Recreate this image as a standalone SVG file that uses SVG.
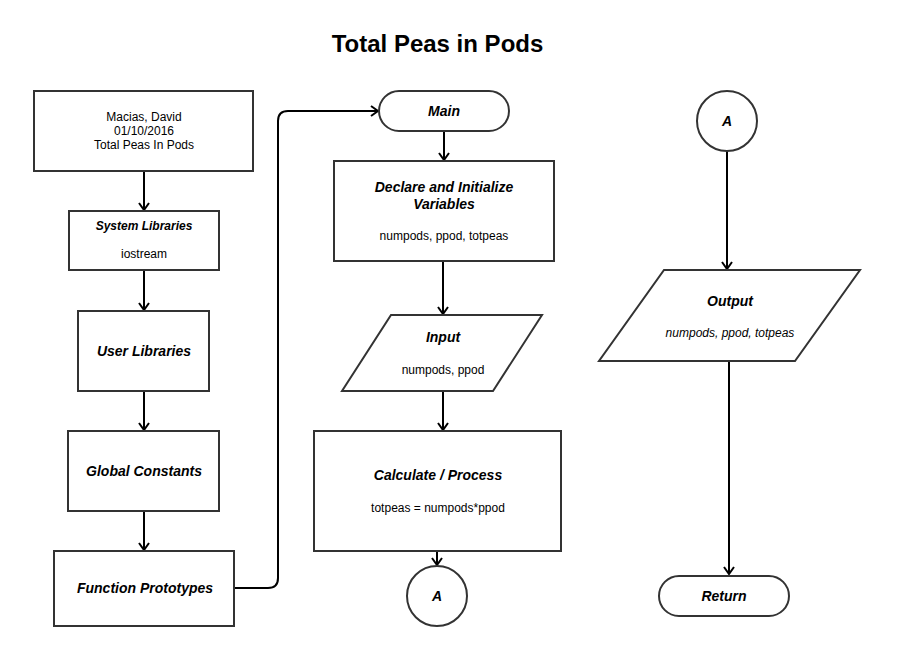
<svg xmlns="http://www.w3.org/2000/svg" width="907" height="651" viewBox="0 0 907 651">
<defs>
<marker id="arr" markerUnits="userSpaceOnUse" markerWidth="14" markerHeight="14" viewBox="-8 -7 10 14" refX="0" refY="0" orient="auto">
<path d="M-7,-5 L0,0 L-7,5" fill="none" stroke="#000" stroke-width="2"/>
</marker>
<style>
.s{fill:#fff;stroke:#333;stroke-width:2}
.c{fill:none;stroke:#000;stroke-width:2}
text{font-family:"Liberation Sans",Arial,sans-serif;fill:#000;text-anchor:middle}
.n{font-size:12px}
.h{font-size:14px;font-weight:bold;font-style:italic}
.h12{font-size:12px;font-weight:bold;font-style:italic}
.i{font-size:12px;font-style:italic}
.t{font-size:24px;font-weight:bold}
</style>
</defs>
<rect width="907" height="651" fill="#fff"/>
<text class="t" x="437.5" y="52">Total Peas in Pods</text>

<g id="connectors">
<line class="c" x1="144" y1="171" x2="144" y2="210" marker-end="url(#arr)"/>
<line class="c" x1="144" y1="270" x2="144" y2="310" marker-end="url(#arr)"/>
<line class="c" x1="144" y1="391" x2="144" y2="430" marker-end="url(#arr)"/>
<line class="c" x1="144" y1="511" x2="144" y2="550" marker-end="url(#arr)"/>
<path class="c" d="M234,588 H268 Q278,588 278,578 V121 Q278,111 288,111 H378" marker-end="url(#arr)"/>
<line class="c" x1="444" y1="131" x2="444" y2="160" marker-end="url(#arr)"/>
<line class="c" x1="443" y1="261" x2="443" y2="314" marker-end="url(#arr)"/>
<line class="c" x1="443" y1="391" x2="443" y2="430" marker-end="url(#arr)"/>
<line class="c" x1="437" y1="551" x2="437" y2="565" marker-end="url(#arr)"/>
<line class="c" x1="727" y1="151" x2="727" y2="269" marker-end="url(#arr)"/>
<line class="c" x1="729" y1="361" x2="729" y2="574" marker-end="url(#arr)"/>
</g>

<g id="header">
<rect class="s" x="34" y="91" width="219" height="80"/>
<text class="n" x="144" y="121">Macias, David</text>
<text class="n" x="144" y="135">01/10/2016</text>
<text class="n" x="144" y="149">Total Peas In Pods</text>
</g>
<g id="syslib">
<rect class="s" x="69" y="211" width="150" height="59"/>
<text class="h12" x="144" y="230">System Libraries</text>
<text class="n" x="144" y="258">iostream</text>
</g>
<g id="userlib">
<rect class="s" x="78" y="311" width="131" height="80"/>
<text class="h" x="144" y="356">User Libraries</text>
</g>
<g id="globconst">
<rect class="s" x="68" y="431" width="151" height="80"/>
<text class="h" x="144" y="476">Global Constants</text>
</g>
<g id="funcproto">
<rect class="s" x="54" y="551" width="180" height="75"/>
<text class="h" x="145" y="593">Function Prototypes</text>
</g>

<g id="main">
<rect class="s" x="379" y="91" width="130" height="40" rx="20" ry="20"/>
<text class="h" x="444" y="116">Main</text>
</g>
<g id="declare">
<rect class="s" x="334" y="161" width="220" height="100"/>
<text class="h" x="444" y="192">Declare and Initialize</text>
<text class="h" x="444" y="209">Variables</text>
<text class="n" x="444" y="240">numpods, ppod, totpeas</text>
</g>
<g id="input">
<polygon class="s" points="391,315 542,315 493,391 342,391"/>
<text class="h" x="443" y="342">Input</text>
<text class="n" x="443" y="374">numpods, ppod</text>
</g>
<g id="calc">
<rect class="s" x="314" y="431" width="247" height="120"/>
<text class="h" x="438" y="480">Calculate / Process</text>
<text class="n" x="438" y="512">totpeas = numpods*ppod</text>
</g>
<g id="connA1">
<circle class="s" cx="437" cy="596" r="30"/>
<text class="h" x="437" y="601">A</text>
</g>

<g id="connA2">
<circle class="s" cx="727" cy="121" r="30"/>
<text class="h" x="727" y="126">A</text>
</g>
<g id="output">
<polygon class="s" points="664,270 860,270 795,361 599,361"/>
<text class="h" x="730" y="306">Output</text>
<text class="i" x="730" y="337">numpods, ppod, totpeas</text>
</g>
<g id="return">
<rect class="s" x="659" y="576" width="130" height="40" rx="20" ry="20"/>
<text class="h" x="724" y="601">Return</text>
</g>
</svg>
